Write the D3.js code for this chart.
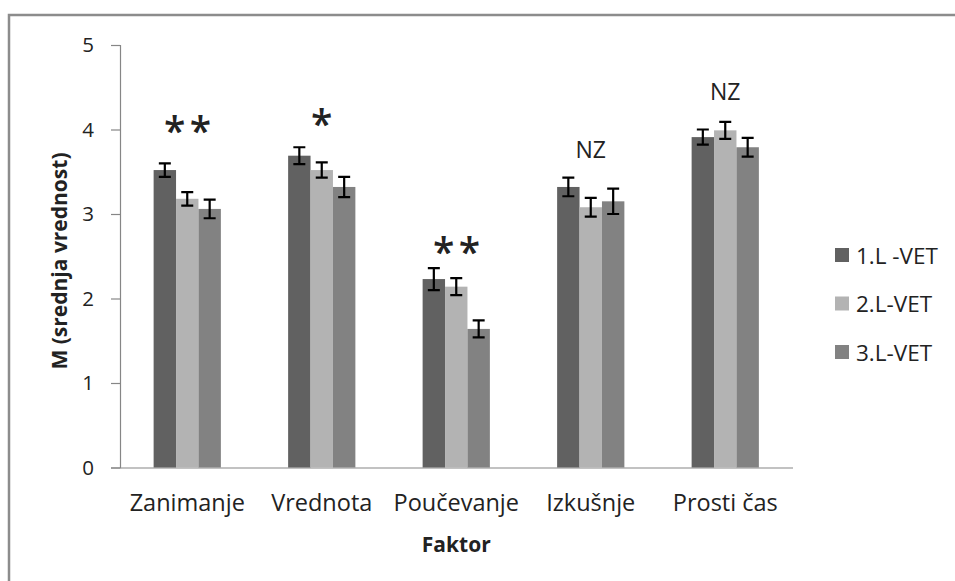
<!DOCTYPE html>
<html>
<head>
<meta charset="utf-8">
<script src="https://cdn.jsdelivr.net/npm/d3@7/dist/d3.min.js"></script>
<style>
  html, body { margin: 0; padding: 0; background: #fff; }
  svg { display: block; }
  text { font-family: "Open Sans", sans-serif; fill: #222; }
</style>
</head>
<body>
<svg id="chart" width="955" height="581"></svg>
<script>
// ---- data ----
const categories = ["Zanimanje", "Vrednota", "Poučevanje", "Izkušnje", "Prosti čas"];
const seriesNames = ["1.L -VET", "2.L-VET", "3.L-VET"];
const series1 = [3.52, 3.69, 2.23, 3.32, 3.91];
const series2 = [3.18, 3.52, 2.14, 3.08, 3.99];
const series3 = [3.06, 3.32, 1.64, 3.15, 3.79];
const errors1 = [0.08, 0.10, 0.13, 0.11, 0.09];
const errors2 = [0.08, 0.09, 0.10, 0.11, 0.10];
const errors3 = [0.11, 0.12, 0.10, 0.15, 0.11];
const significance = ["**", "*", "**", "NZ", "NZ"];
const significanceY = [4.07, 4.15, 2.64, 3.77, 4.46];
const yTicks = [0, 1, 2, 3, 4, 5];
const colors = ["#616161", "#b3b3b3", "#828282"];

const seriesValues = [series1, series2, series3];
const seriesErrors = [errors1, errors2, errors3];

const svg = d3.select("#chart");

// outer frame
svg.append("path")
  .attr("d", "M9,581V15H955")
  .attr("fill", "none")
  .attr("stroke", "#8c8c8c")
  .attr("stroke-width", 2.5);

const plot = { left: 120, right: 792.5, top: 45, bottom: 467.5 };

const x = d3.scaleBand()
  .domain(categories)
  .range([plot.left, plot.right])
  .paddingInner(0.5)
  .paddingOuter(0.25);

const xs = d3.scaleBand()
  .domain(d3.range(seriesNames.length))
  .range([0, x.bandwidth()]);

const y = d3.scaleLinear().domain([0, 5]).range([plot.bottom, plot.top]);

// y axis
const yAxis = svg.append("g")
  .attr("transform", `translate(${plot.left},0)`)
  .call(d3.axisLeft(y).tickValues(yTicks).tickFormat(d3.format("d")).tickSize(9).tickPadding(17));
yAxis.select(".domain").attr("stroke", "#868686").attr("stroke-width", 1.2);
yAxis.selectAll(".tick line").attr("stroke", "#868686").attr("stroke-width", 1.2);
yAxis.selectAll(".tick text")
  .attr("font-family", "Open Sans, sans-serif")
  .attr("font-size", 20.5)
  .attr("fill", "#222");

// x axis
const xAxis = svg.append("g")
  .attr("transform", `translate(0,${plot.bottom})`)
  .call(d3.axisBottom(x).tickSize(0).tickPadding(26.5));
xAxis.select(".domain").attr("stroke", "#868686").attr("stroke-width", 1.2);
xAxis.selectAll(".tick text")
  .attr("font-family", "Open Sans, sans-serif")
  .attr("font-size", 23.5)
  .attr("fill", "#222");

// bars
const groups = svg.append("g").selectAll("g")
  .data(categories)
  .join("g")
  .attr("transform", d => `translate(${x(d)},0)`);

seriesNames.forEach((s, si) => {
  groups.append("rect")
    .attr("x", (d, i) => xs(si))
    .attr("width", xs.bandwidth())
    .attr("y", (d, i) => y(seriesValues[si][i]))
    .attr("height", (d, i) => y(0) - y(seriesValues[si][i]))
    .attr("fill", colors[si]);
});

// error bars
const cap = 6;
seriesNames.forEach((s, si) => {
  groups.each(function(d, i) {
    const g = d3.select(this);
    const cx = xs(si) + xs.bandwidth() / 2;
    const v = seriesValues[si][i], e = seriesErrors[si][i];
    const y1 = y(v + e), y2 = y(v - e);
    const p = `M${cx},${y1}V${y2}M${cx - cap},${y1}H${cx + cap}M${cx - cap},${y2}H${cx + cap}`;
    g.append("path").attr("d", p).attr("stroke", "#000").attr("stroke-width", 2.2).attr("fill", "none");
  });
});

// significance labels
const isStar = s => s.indexOf("*") >= 0;
svg.append("g").selectAll("text")
  .data(categories)
  .join("text")
  .attr("x", d => x(d) + x.bandwidth() / 2)
  .attr("y", (d, i) => y(significanceY[i]))
  .attr("text-anchor", "middle")
  .attr("dominant-baseline", "central")
  .attr("dy", (d, i) => isStar(significance[i]) ? "0.15em" : "0")
  .attr("dx", (d, i) => significance[i] === "**" ? 2.5 : 0)
  .attr("letter-spacing", (d, i) => significance[i] === "**" ? 4.5 : 0)
  .attr("font-size", (d, i) => isStar(significance[i]) ? 39 : 23)
  .attr("font-weight", (d, i) => isStar(significance[i]) ? 600 : 400)
  .attr("fill", "#111")
  .text((d, i) => significance[i]);

// axis titles
svg.append("text")
  .attr("x", (plot.left + plot.right) / 2)
  .attr("y", 552)
  .attr("text-anchor", "middle")
  .attr("font-size", 21)
  .attr("font-weight", "bold")
  .attr("fill", "#111")
  .text("Faktor");

svg.append("text")
  .attr("transform", `translate(67,261) rotate(-90)`)
  .attr("text-anchor", "middle")
  .attr("font-size", 21)
  .attr("font-weight", "bold")
  .attr("fill", "#111")
  .text("M (srednja vrednost)");

// legend
const legend = svg.append("g").attr("transform", "translate(835,255)");
const li = legend.selectAll("g").data(seriesNames).join("g")
  .attr("transform", (d, i) => `translate(0,${i * 48.5})`);
li.append("rect").attr("x", 0).attr("y", -7).attr("width", 14).attr("height", 14)
  .attr("fill", (d, i) => colors[i]);
li.append("text").attr("x", 21).attr("y", 0).attr("dominant-baseline", "central")
  .attr("font-size", 22.5).attr("fill", "#222").text(d => d);
</script>
</body>
</html>
